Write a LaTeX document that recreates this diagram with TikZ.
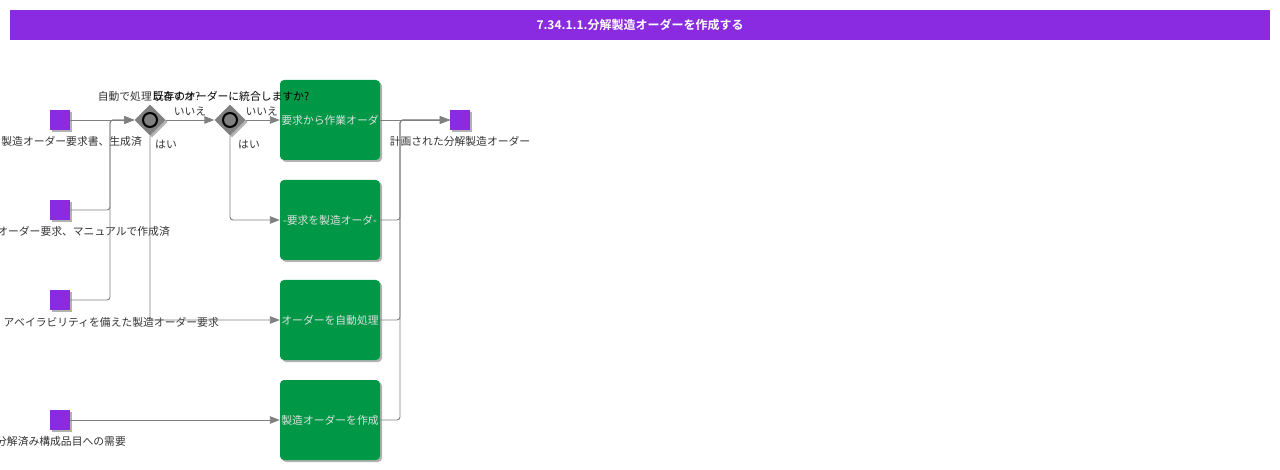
\documentclass[tikz,border=0pt]{standalone}
\usepackage{fontspec}
\setmainfont{Noto Sans CJK JP}[BoldFont={Noto Sans CJK JP Bold}]
\usetikzlibrary{shapes.geometric,arrows.meta,shadows}
\definecolor{flowpurple}{RGB}{138,43,226}
\definecolor{flowgreen}{RGB}{0,152,70}
\definecolor{flowgray}{RGB}{128,128,128}
\definecolor{flowtext}{RGB}{51,51,51}
\begin{document}
\begin{tikzpicture}[x=1pt,y=-1pt,
	  every node/.style={font=\fontsize{10.8}{12}\selectfont},
	  shade/.style={drop shadow={shadow xshift=2pt,shadow yshift=-2pt,opacity=0.3,fill=black}},
	  titlebar/.style={rectangle,fill=flowpurple,text=white,minimum width=1260pt,minimum height=30pt,inner sep=0pt,font=\fontsize{12}{14}\selectfont\bfseries},
	  dataobj/.style={rectangle,fill=flowpurple,minimum size=20pt,inner sep=0pt,shade},
	  gateway/.style={diamond,fill=flowgray,minimum size=31pt,inner sep=0pt,shade},
	  ring/.style={circle,draw=black,line width=2pt,fill=flowgray,minimum size=14pt,inner sep=0pt},
	  task/.style={rectangle,rounded corners=4pt,fill=flowgreen,text=black!12,minimum width=100pt,minimum height=80pt,inner sep=0pt,shade},
	  lbl/.style={text=flowtext,inner sep=0pt},
	  flow/.style={draw=flowgray,line width=0.9pt,rounded corners=3pt,-{Triangle[length=10pt,width=7.5pt]}},
	]
	  \useasboundingbox (0,0) rectangle (1280,470);
	  \node[titlebar] (title) at (640,25) {7.34.1.1.分解製造オーダーを作成する};

	  % inputs and output
	  \node[dataobj] (in1) at (60,120) {};
	  \node[dataobj] (in2) at (60,210) {};
	  \node[dataobj] (in3) at (60,300) {};
	  \node[dataobj] (in4) at (60,420) {};
	  \node[dataobj] (out) at (460,120) {};
	  \node[lbl,anchor=east] (lin1) at (142,141) {製造オーダー要求書、生成済};
	  \node[lbl,anchor=east] (lin2) at (170,231) {オーダー要求、マニュアルで作成済};
	  \node[lbl,anchor=east] (lin3) at (219,322) {アベイラビリティを備えた製造オーダー要求};
	  \node[lbl,anchor=east] (lin4) at (126,441) {分解済み構成品目への需要};
	  \node[lbl] (lout) at (460,141) {計画された分解製造オーダー};

	  % tasks
	  \node[task] (t1) at (330,120) {要求から作業オーダ};
	  \node[task] (t2) at (330,220) {-要求を製造オーダ-};
	  \node[task] (t3) at (330,320) {オーダーを自動処理};
	  \node[task] (t4) at (330,420) {製造オーダーを作成};

	  % gateways
	  \node[gateway] (gw1) at (150,120) {};
	  \node[gateway] (gw2) at (230,120) {};
	  \node[ring] at (gw1) {};
	  \node[ring] at (gw2) {};
	  \coordinate (jin) at (110,120);
	  \coordinate (jout) at (400,120);

	  \draw[flow] (in1) -- (gw1);
	  \draw[flow] (in2) -| (jin) -- (gw1);
	  \draw[flow] (in3) -| (jin) -- (gw1);
	  \draw[flow] (gw1) -- node[lbl,above=4pt] {いいえ} (gw2);
	  \draw[flow] (gw1.south) |- (t3);
	  \draw[flow] (gw2) -- node[lbl,above=4pt,xshift=-1pt] {いいえ} (t1);
	  \draw[flow] (gw2.south) |- (t2);
	  \draw[flow] (in4) -- (t4);
	  \draw[flow] (t1) -- (out);
	  \draw[flow] (t2) -| (jout) -- (out);
	  \draw[flow] (t3) -| (jout) -- (out);
	  \draw[flow] (t4) -| (jout) -- (out);
	  \node[lbl] at (166,145) {はい};
	  \node[lbl] at (249,145) {はい};

	  \node[lbl] (q1) at (149,96) {自動で処理しますか?};
	  \node[lbl,text=black] (q2) at (231,96) {既存のオーダーに統合しますか?};
\end{tikzpicture}
\end{document}
